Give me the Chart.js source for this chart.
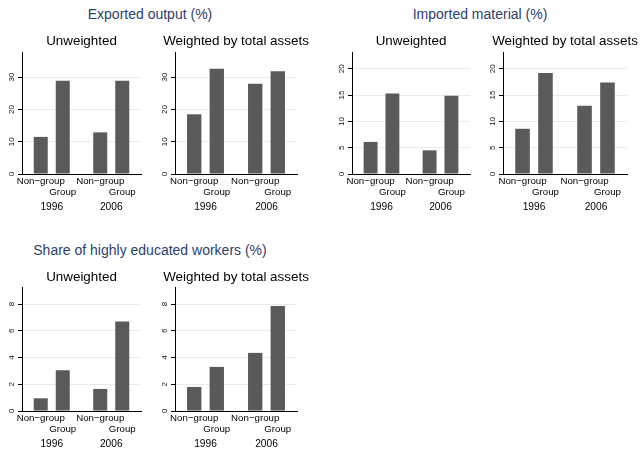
<!DOCTYPE html>
<html>
<head>
<meta charset="utf-8">
<script src="https://cdn.jsdelivr.net/npm/chart.js@4"></script>
<style>
  html, body { margin: 0; padding: 0; background: #fff; }
  #wrap { position: relative; width: 641px; height: 450px; overflow: hidden; font-family: "Liberation Sans", Arial, sans-serif; }
  #wrap canvas { position: absolute; }
  .grp { position: absolute; width: 300px; text-align: center; font-size: 14px; line-height: 16px; color: #2c406c; white-space: nowrap; }
</style>
</head>
<body>
<div id="wrap">
  <div class="grp" style="left:0px; top:6px;">Exported output (%)</div>
  <div class="grp" style="left:330px; top:6px;">Imported material (%)</div>
  <div class="grp" style="left:0px; top:242px;">Share of highly educated workers (%)</div>
</div>
<script>
// Categories
const years = ['1996', '2006'];
const firmTypes = ['Non\u2212group', 'Group'];
const weightings = ['Unweighted', 'Weighted by total assets'];

// Exported output (%)
const exportedUnweightedNonGroup = [11.5, 12.9];
const exportedUnweightedGroup = [28.9, 28.9];
const exportedWeightedNonGroup = [18.5, 28.0];
const exportedWeightedGroup = [32.6, 31.8];
const exportedTicks = [0, 10, 20, 30];
const exportedAxisMax = 37.8;

// Imported material (%)
const importedUnweightedNonGroup = [6.1, 4.5];
const importedUnweightedGroup = [15.3, 14.9];
const importedWeightedNonGroup = [8.6, 13.0];
const importedWeightedGroup = [19.2, 17.4];
const importedTicks = [0, 5, 10, 15, 20];
const importedAxisMax = 23.2;

// Share of highly educated workers (%)
const educatedUnweightedNonGroup = [0.95, 1.65];
const educatedUnweightedGroup = [3.05, 6.7];
const educatedWeightedNonGroup = [1.8, 4.35];
const educatedWeightedGroup = [3.3, 7.85];
const educatedTicks = [0, 2, 4, 6, 8];
const educatedAxisMax = 9.28;

const FONT = '"Liberation Sans", Arial, sans-serif';
const AXIS_W = 22;      // room for the rotated y tick labels
const PAD_TOP = 24;     // room for the panel heading
const PAD_R = 16;
const X_AXIS_H = 46;    // room for the two rows of bar labels and the year

const rows = [
  { canvasTop: 28, plotH: 122, headGap: 11 },
  { canvasTop: 263, plotH: 124, headGap: 9.5 }
];

const panels = [
  { row: 0, left: 22,  right: 141, heading: weightings[0], nonGroup: exportedUnweightedNonGroup, group: exportedUnweightedGroup, ticks: exportedTicks, max: exportedAxisMax },
  { row: 0, left: 175, right: 297, heading: weightings[1], nonGroup: exportedWeightedNonGroup,   group: exportedWeightedGroup,   ticks: exportedTicks, max: exportedAxisMax },
  { row: 0, left: 352, right: 470, heading: weightings[0], nonGroup: importedUnweightedNonGroup, group: importedUnweightedGroup, ticks: importedTicks, max: importedAxisMax },
  { row: 0, left: 503, right: 627, heading: weightings[1], nonGroup: importedWeightedNonGroup,   group: importedWeightedGroup,   ticks: importedTicks, max: importedAxisMax },
  { row: 1, left: 22,  right: 141, heading: weightings[0], nonGroup: educatedUnweightedNonGroup, group: educatedUnweightedGroup, ticks: educatedTicks, max: educatedAxisMax },
  { row: 1, left: 175, right: 297, heading: weightings[1], nonGroup: educatedWeightedNonGroup,   group: educatedWeightedGroup,   ticks: educatedTicks, max: educatedAxisMax }
];

// Heading centred over the plot area
const headingPlugin = {
  id: 'panelHeading',
  afterDraw(chart, args, opts) {
    const { ctx, chartArea } = chart;
    ctx.save();
    ctx.font = '13.4px ' + FONT;
    ctx.fillStyle = '#000';
    ctx.textAlign = 'center';
    ctx.textBaseline = 'middle';
    ctx.fillText(opts.text, (chartArea.left + chartArea.right) / 2, chartArea.top - opts.gap);
    ctx.restore();
  }
};

// Vertical y tick labels, reading bottom to top
const yTickLabelPlugin = {
  id: 'yTickLabels',
  afterDraw(chart) {
    const s = chart.scales.y;
    const ctx = chart.ctx;
    ctx.save();
    ctx.font = '8px ' + FONT;
    ctx.fillStyle = '#111';
    ctx.textAlign = 'center';
    ctx.textBaseline = 'middle';
    s.ticks.forEach(t => {
      const y = s.getPixelForValue(t.value);
      ctx.save();
      ctx.translate(s.right - 10.5, y);
      ctx.rotate(-Math.PI / 2);
      ctx.fillText(String(t.value), 0, 0);
      ctx.restore();
    });
    ctx.restore();
  }
};

// Firm-type label under each bar, staggered on two lines
const barLabelPlugin = {
  id: 'barLabels',
  afterDraw(chart) {
    const ctx = chart.ctx;
    const base = chart.chartArea.bottom;
    const offsets = [7.5, 18];
    ctx.save();
    ctx.font = '9.7px ' + FONT;
    ctx.fillStyle = '#000';
    ctx.textAlign = 'center';
    ctx.textBaseline = 'middle';
    chart.data.datasets.forEach((ds, i) => {
      chart.getDatasetMeta(i).data.forEach(bar => {
        ctx.fillText(ds.label, bar.x, base + offsets[i]);
      });
    });
    ctx.restore();
  }
};

const wrap = document.getElementById('wrap');

panels.forEach(p => {
  const row = rows[p.row];
  const cv = document.createElement('canvas');
  const w = (p.right - p.left) + AXIS_W + PAD_R;
  const h = PAD_TOP + row.plotH + X_AXIS_H;
  cv.width = w;
  cv.height = h;
  cv.style.width = w + 'px';
  cv.style.height = h + 'px';
  cv.style.left = (p.left - AXIS_W) + 'px';
  cv.style.top = row.canvasTop + 'px';
  wrap.appendChild(cv);

  const barStyle = {
    backgroundColor: '#5a5a5a',
    borderWidth: 0,
    categoryPercentage: 0.74,
    barPercentage: 0.636
  };

  new Chart(cv, {
    type: 'bar',
    data: {
      labels: years,
      datasets: [
        Object.assign({ label: firmTypes[0], data: p.nonGroup }, barStyle),
        Object.assign({ label: firmTypes[1], data: p.group }, barStyle)
      ]
    },
    options: {
      responsive: false,
      animation: false,
      devicePixelRatio: 1,
      layout: { padding: { top: PAD_TOP, right: PAD_R, left: 0, bottom: 0 } },
      plugins: {
        legend: { display: false },
        tooltip: { enabled: false },
        panelHeading: { text: p.heading, gap: row.headGap }
      },
      scales: {
        x: {
          type: 'category',
          grid: { display: false, drawTicks: false },
          border: { display: true, color: '#000', width: 1 },
          ticks: { padding: 27.5, color: '#000', font: { family: FONT, size: 10.2 }, maxRotation: 0, autoSkip: false },
          afterFit: s => { s.height = X_AXIS_H; }
        },
        y: {
          type: 'linear',
          min: 0,
          max: p.max,
          grid: {
            color: c => (c.tick && c.tick.value === 0) ? 'rgba(0,0,0,0)' : '#eaeaea',
            tickColor: '#000',
            tickLength: 4,
            drawTicks: true
          },
          border: { display: true, color: '#000', width: 1 },
          ticks: { display: false },
          afterBuildTicks: s => { s.ticks = p.ticks.map(v => ({ value: v })); },
          afterFit: s => { s.width = AXIS_W; }
        }
      }
    },
    plugins: [headingPlugin, yTickLabelPlugin, barLabelPlugin]
  });
});
</script>
</body>
</html>
